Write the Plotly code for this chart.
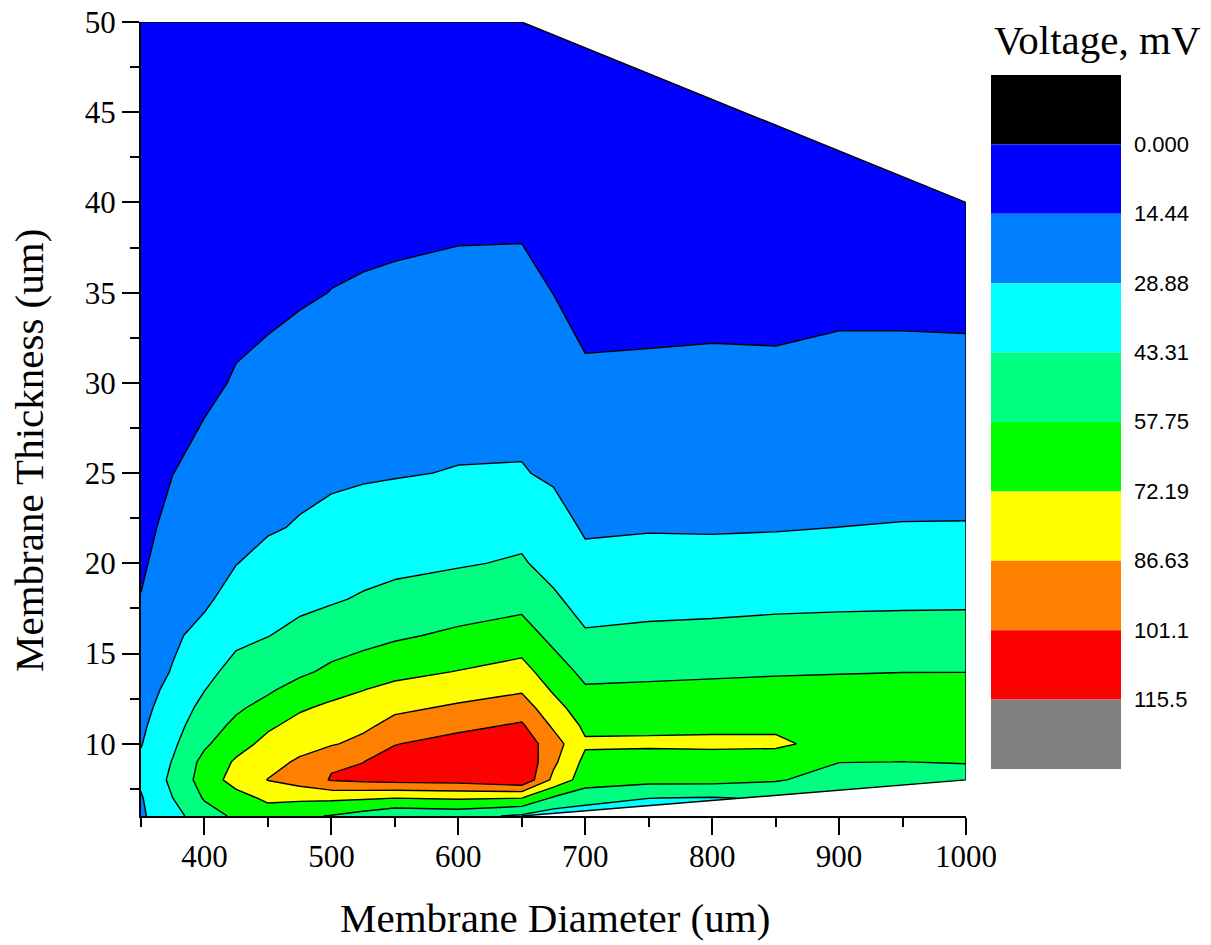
import numpy as np
import plotly.graph_objects as go

# ---- grid of the simulation ----
diameter = [350, 375, 400, 425, 450, 475, 500, 525, 550, 600, 650, 675, 700, 750, 800, 850, 900, 950, 1000]
thickness = [6, 7, 8, 9, 10, 11, 12, 13, 14, 16, 18, 20, 22, 25, 30, 35, 40, 45, 50]

# output voltage (mV) along the thickness axis, one list per diameter
v_d350 = [27, 27.8, 30.8, 30.8, 28.3, 26.6, 24.9, 23.3, 21.6, 18.2, 14.9, 12.5, 10.5, 9, 7, 5.5, 4.5, 3.5, 3]
v_d375 = [38, 43.3, 46.5, 44, 41, 38.2, 35.4, 32.6, 29.7, 26.6, 23.9, 21.2, 18.4, 14.3, 11, 8.5, 6.5, 5, 4]
v_d400 = [52, 59, 64, 62, 55.5, 51.3, 47.2, 43.0, 39.8, 33.2, 26.5, 24.5, 22, 18.3, 12, 10, 8, 6.5, 5]
v_d425 = [60, 67, 78, 74, 67, 60.8, 55.7, 51.6, 47.4, 40.4, 34.5, 28.6, 26.0, 21.9, 15.4, 11, 8.5, 7, 5.5]
v_d450 = [65, 75, 87, 82, 76, 70.2, 62.2, 55.9, 51.7, 43.0, 38.1, 32.8, 27.6, 23.7, 17.8, 11.5, 9.5, 7.5, 6]
v_d475 = [60, 75, 93, 88.5, 82, 76.3, 70.6, 62.7, 55.3, 47, 40, 35.5, 29.8, 25.8, 19.5, 13.2, 10.5, 8, 6.5]
v_d500 = [57, 75, 102, 99.4, 85.2, 80.4, 74.7, 68.0, 60.4, 50.6, 42.0, 36.8, 31.9, 27.0, 20.8, 14.6, 11, 8.5, 7]
v_d525 = [52, 74, 104, 100.9, 91.1, 83.4, 77.7, 71.9, 64.4, 53.0, 44.6, 39.1, 34.3, 27.5, 22.0, 15.3, 11.5, 9.5, 7.5]
v_d550 = [46, 72.5, 105.5, 107, 100.5, 91.7, 83.5, 75.7, 68.4, 55.75, 46.9, 40.4, 35.5, 28.1, 22.1, 16, 11.5, 10, 8]
v_d600 = [48, 74, 107, 112, 107, 97.3, 88.8, 80.6, 72.6, 60.4, 50.0, 42.3, 37.3, 29.4, 23.5, 17.5, 11.6, 9.5, 8]
v_d650 = [41, 72.5, 113, 113.5, 110, 103, 93.6, 84.9, 77.3, 63.9, 53.4, 44.6, 39.8, 29.5, 24.6, 17.7, 11.7, 9.5, 8]
v_d675 = [35, 56, 83, 89.5, 92.9, 84.5, 77.4, 70.4, 64.4, 53.9, 45.4, 38.8, 33.4, 27.3, 20.8, 14.3, 10.5, 8.5, 7]
v_d700 = [35, 48.9, 65, 68.5, 74, 69.5, 64.2, 59.2, 54.4, 44.7, 38.2, 31.5, 27.6, 23.5, 16.6, 10, 8, 6.5, 5.5]
v_d750 = [36, 43.5, 62, 67, 74, 70, 64.6, 59.8, 55.2, 46, 39.1, 33.1, 28.05, 23.9, 17.05, 10.2, 8, 6.5, 5.5]
v_d800 = [36, 42.5, 62, 67, 74.5, 70, 65.2, 60.5, 55.9, 46.9, 39.3, 33.7, 27.7, 24.6, 17.6, 10.4, 8, 6.5, 5.5]
v_d850 = [38, 45, 59, 67, 74, 70.5, 65.8, 61.2, 56.6, 47.7, 40.3, 34.2, 28.1, 24.2, 17.3, 10.3, 8, 6.5, 5.5]
v_d900 = [40, 46, 52, 58, 68.5, 67.5, 65, 61.5, 57.1, 48.3, 40.7, 34.8, 28.9, 25.0, 18.3, 11.6, 9, 7.5, 6]
v_d950 = [40, 46, 52, 57.7, 63, 66, 64.5, 61.5, 57.55, 48.6, 41.0, 35.2, 29.3, 25.2, 18.3, 11.6, 9, 7.5, 6]
v_d1000 = [40, 46, 52, 58.4, 63, 65.5, 64, 61.5, 57.6, 48.9, 41.1, 35.3, 29.4, 25, 18.0, 11.5, 9, 7.5, 6]

voltage_columns = [v_d350, v_d375, v_d400, v_d425, v_d450, v_d475, v_d500, v_d525, v_d550,
                   v_d600, v_d650, v_d675, v_d700, v_d750, v_d800, v_d850, v_d900, v_d950, v_d1000]

# simulated region: upper and lower edges of the explored design space
edge_top_x = [350, 650, 1000]
edge_top_y = [50, 50, 40]
edge_bottom_x = [650, 1000]
edge_bottom_y = [6, 8]

# contour levels and colour bands
level_start = 0.0
level_step = 14.4375
level_count = 9
level_labels = ["0.000", "14.44", "28.88", "43.31", "57.75", "72.19", "86.63", "101.1", "115.5"]
band_colors = ["#000000", "#0000FF", "#0080FF", "#00FFFF", "#00FF80",
               "#00FF00", "#FFFF00", "#FF8000", "#FF0000", "#808080"]

W, H = 1211, 945
serif = "Liberation Serif, Times New Roman, serif"
sans = "Liberation Sans, Arial, sans-serif"

z = np.array(voltage_columns, dtype=float).T  # rows = thickness, cols = diameter

n_bands = len(band_colors)
colorscale = [[k / (n_bands - 1), c] for k, c in enumerate(band_colors)]
level_end = level_start + level_step * (level_count - 1)

fig = go.Figure()

fig.add_trace(go.Contour(
    x=diameter, y=thickness, z=z,
    autocontour=False,
    contours=dict(start=level_start, end=level_end, size=level_step, coloring="fill"),
    colorscale=colorscale,
    line=dict(color="black", width=1.4, smoothing=0),
    showscale=False,
    hoverinfo="skip",
))

# blank out the parts of the rectangle outside the simulated region
x0, x1 = diameter[0], diameter[-1]
y0, y1 = thickness[0], thickness[-1]
fig.add_trace(go.Scatter(
    x=[edge_top_x[1], edge_top_x[2], x1 + 10, x1 + 10, edge_top_x[1]],
    y=[edge_top_y[1], edge_top_y[2], edge_top_y[2], y1 + 2, y1 + 2],
    fill="toself", fillcolor="white", mode="none", showlegend=False, hoverinfo="skip",
))
fig.add_trace(go.Scatter(
    x=[edge_bottom_x[0], edge_bottom_x[1], x1 + 10, x1 + 10, edge_bottom_x[0]],
    y=[edge_bottom_y[0], edge_bottom_y[1], edge_bottom_y[1], y0 - 2, y0 - 2],
    fill="toself", fillcolor="white", mode="none", showlegend=False, hoverinfo="skip",
))
# outline of the region
fig.add_trace(go.Scatter(
    x=edge_top_x + [edge_bottom_x[1], edge_bottom_x[0]],
    y=edge_top_y + [edge_bottom_y[1], edge_bottom_y[0]],
    mode="lines", line=dict(color="black", width=1.4),
    showlegend=False, hoverinfo="skip", cliponaxis=False,
))

# colour key drawn as stacked boxes
fig.add_trace(go.Bar(
    x=[0] * n_bands, y=[1] * n_bands, base=list(range(n_bands)),
    marker=dict(color=band_colors, line=dict(width=0)),
    width=1, xaxis="x2", yaxis="y2", showlegend=False, hoverinfo="skip",
))

px_x = lambda p: p / W
px_y = lambda p: 1 - p / H

tickfont = dict(family=serif, size=31, color="black")
fig.update_layout(
    width=W, height=H,
    margin=dict(l=0, r=0, t=0, b=0),
    paper_bgcolor="white", plot_bgcolor="white",
    barmode="overlay",
    xaxis=dict(
        domain=[px_x(141), px_x(966)], range=[x0, x1],
        tickvals=list(range(400, 1001, 100)),
        ticks="outside", ticklen=17, tickwidth=2, tickcolor="black",
        minor=dict(ticks="outside", ticklen=9, tickwidth=2, tickcolor="black", tick0=0, dtick=50),
        showline=True, linewidth=2, linecolor="black", ticklabelstandoff=-5,
        showgrid=False, zeroline=False, tickfont=tickfont, automargin=False,
    ),
    yaxis=dict(
        domain=[px_y(816), px_y(22)], range=[y0, y1],
        tickvals=list(range(10, 51, 5)),
        ticks="outside", ticklen=17, tickwidth=2, tickcolor="black",
        minor=dict(ticks="outside", ticklen=9, tickwidth=2, tickcolor="black", tick0=0, dtick=2.5),
        showline=True, linewidth=2, linecolor="black",
        showgrid=False, zeroline=False, tickfont=tickfont, automargin=False,
    ),
    xaxis2=dict(domain=[px_x(991), px_x(1121)], range=[-0.5, 0.5], visible=False,
                anchor="y2", fixedrange=True),
    yaxis2=dict(domain=[px_y(769), px_y(75)], range=[n_bands, 0], visible=False,
                anchor="x2", fixedrange=True),
)

annotations = [
    dict(text="Membrane Diameter (um)", x=px_x(555), y=px_y(918), xref="paper", yref="paper",
         xanchor="center", yanchor="middle", showarrow=False,
         font=dict(family=serif, size=41, color="black")),
    dict(text="Membrane Thickness (um)", x=px_x(29), y=px_y(451), xref="paper", yref="paper",
         xanchor="center", yanchor="middle", textangle=-90, showarrow=False,
         font=dict(family=serif, size=41, color="black")),
    dict(text="Voltage, mV", x=px_x(1097), y=px_y(40), xref="paper", yref="paper",
         xanchor="center", yanchor="middle", showarrow=False,
         font=dict(family=serif, size=41, color="black")),
]
for k, lab in enumerate(level_labels, start=1):
    annotations.append(dict(text=lab, x=px_x(1132), y=k, xref="paper", yref="y2",
                            xanchor="left", yanchor="middle", showarrow=False,
                            font=dict(family=sans, size=22, color="black")))
fig.update_layout(annotations=annotations)

fig.write_html("out.html")
